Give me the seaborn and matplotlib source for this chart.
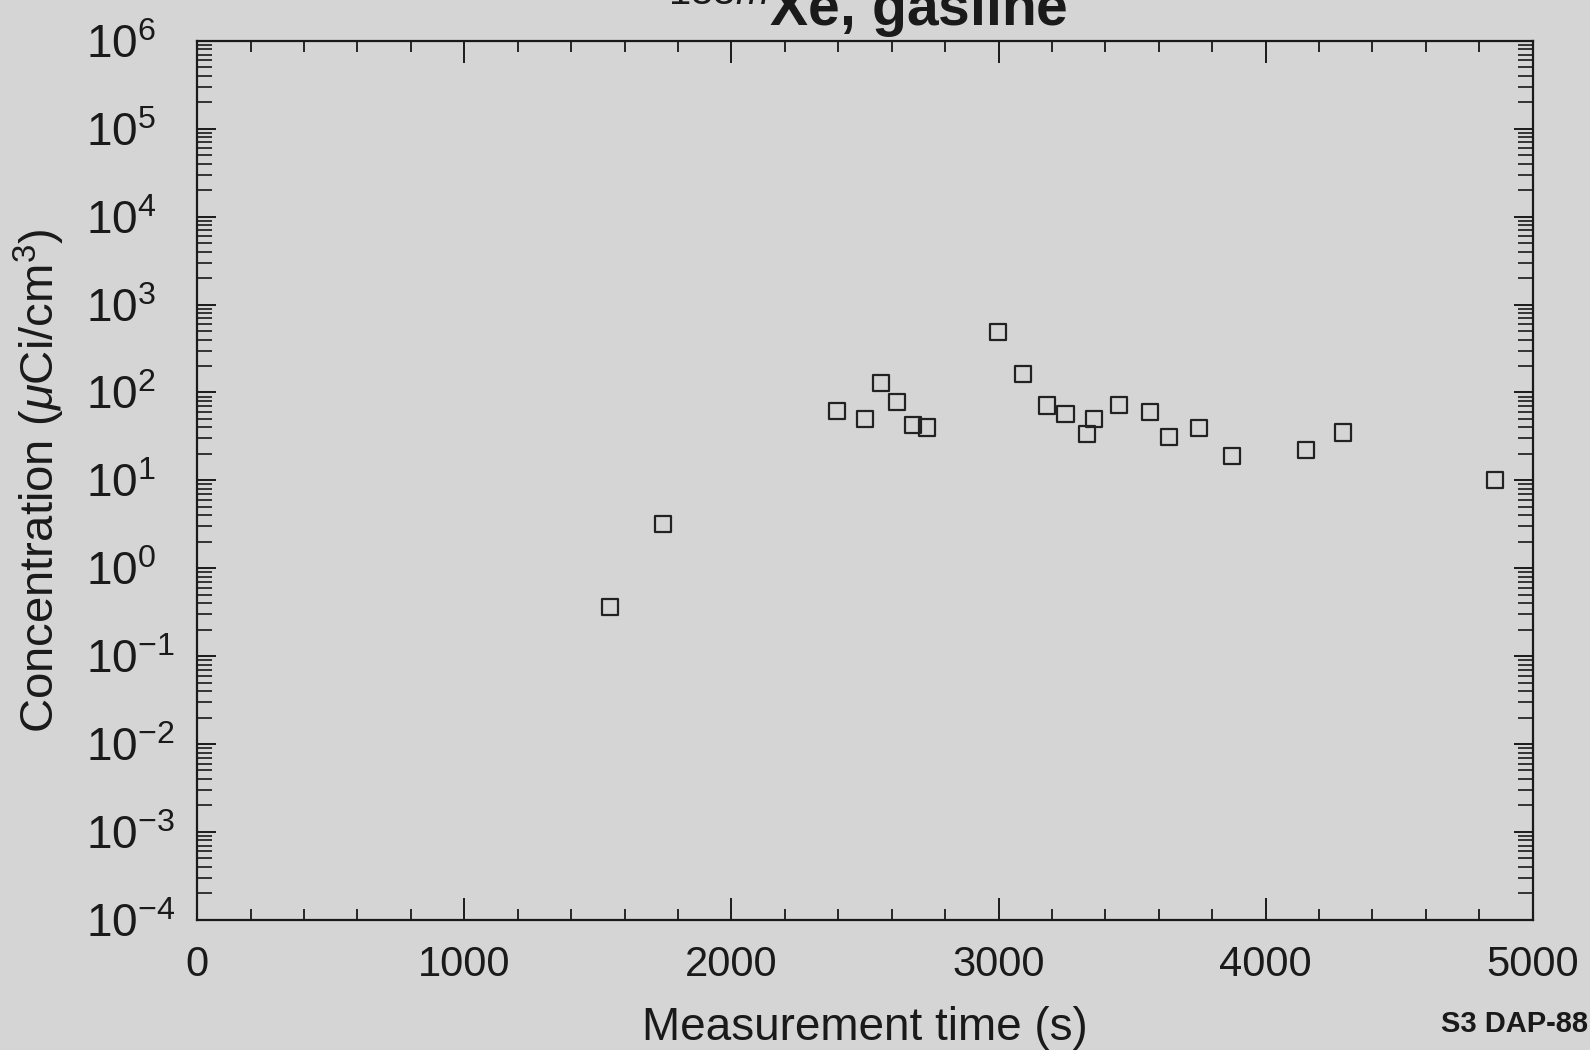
import numpy as np
import pandas as pd
import matplotlib
matplotlib.use('Agg')
import matplotlib.pyplot as plt
import matplotlib.ticker as mticker
import seaborn as sns

# data (time in s, concentration in uCi/cm3)
time_s = [1546, 1743, 2396, 2499, 2560, 2621, 2681, 2731, 2997, 3091, 3183,
          3251, 3331, 3357, 3452, 3566, 3638, 3752, 3874, 4151, 4288, 4858]
conc = [0.36, 3.2, 62, 50, 129, 78, 43, 40, 490, 162, 71,
        57, 34, 50, 72, 60, 31, 39, 19, 22, 35, 10.2]

x_ticks = [0, 1000, 2000, 3000, 4000, 5000]
y_exps = list(range(-4, 7))

df = pd.DataFrame({'time': time_s, 'conc': conc})

bg = '#d5d5d5'
sns.set_theme(style='ticks')
plt.rcParams['font.family'] = ['Liberation Sans', 'DejaVu Sans']
plt.rcParams['mathtext.fontset'] = 'custom'
plt.rcParams['mathtext.rm'] = 'Liberation Sans'
plt.rcParams['mathtext.it'] = 'Liberation Sans:italic'
plt.rcParams['mathtext.bf'] = 'Liberation Sans:bold'

fig = plt.figure(figsize=(15.9, 10.5), dpi=100, facecolor=bg)
ax = fig.add_axes([0.124, 0.124, 0.840, 0.837])
ax.set_facecolor(bg)

sns.scatterplot(data=df, x='time', y='conc', marker='s', s=135,
                facecolor='none', edgecolor='#222222', linewidth=1.6, ax=ax)

ax.set_yscale('log')
ax.set_xlim(0, 5000)
ax.set_ylim(1e-4, 1e6)

ax.set_xticks(x_ticks)
ax.set_xticklabels([str(t) for t in x_ticks])
ax.xaxis.set_minor_locator(mticker.MultipleLocator(200))
ax.set_yticks([10.0 ** e for e in y_exps])
ax.set_yticklabels(['$10^{%d}$' % e for e in y_exps])
ax.yaxis.set_minor_locator(mticker.LogLocator(base=10, subs=np.arange(2, 10), numticks=100))
ax.yaxis.set_minor_formatter(mticker.NullFormatter())

ax.tick_params(axis='x', which='major', direction='in', length=16, width=1.4,
               top=True, bottom=True, labelsize=30, pad=18, colors='#1a1a1a')
ax.tick_params(axis='x', which='minor', direction='in', length=8, width=1.4,
               top=True, bottom=True)
ax.tick_params(axis='y', which='major', direction='in', length=14, width=1.4,
               left=True, right=True, labelsize=33, pad=80, colors='#1a1a1a')
ax.tick_params(axis='y', which='minor', direction='in', length=11, width=1.3,
               left=True, right=True)
# labels start at the same x, like the original plot
for lab in ax.get_yticklabels():
    lab.set_horizontalalignment('left')
for sp in ax.spines.values():
    sp.set_linewidth(1.6)
    sp.set_color('#1a1a1a')

ax.set_xlabel('Measurement time (s)', fontsize=33, labelpad=15, color='#1a1a1a')
ax.set_ylabel(r'Concentration ($\mu$Ci/cm$^3$)', fontsize=34, labelpad=14, color='#1a1a1a')

fig.text(0.42, 0.975, r'$^{133m}$Xe, gasline', fontsize=41, fontweight='bold',
         ha='left', va='baseline', color='#1a1a1a')
fig.text(0.999, 0.017, 'S3 DAP-88', fontsize=21, fontweight='bold',
         ha='right', va='baseline', color='#1a1a1a')

fig.savefig('out.png', dpi=100, facecolor=bg)
